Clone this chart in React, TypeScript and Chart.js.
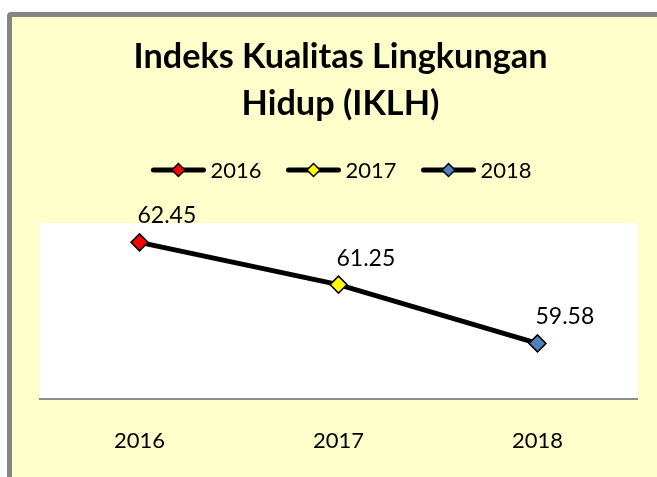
import React, { useEffect, useRef } from "react";
import { Chart, registerables } from "chart.js";

Chart.register(...registerables);

const titleLines = ["Indeks Kualitas Lingkungan", "Hidup (IKLH)"];
const years = ["2016", "2017", "2018"];
const iklhValues = [62.45, 61.25, 59.58];
const pointColors = ["#FF0000", "#FFFF00", "#4F81BD"];
const yMin = 58;
const yMax = 63;

const FONT = "Lato, 'Open Sans', sans-serif";

const plotBackground = {
  id: "plotBackground",
  beforeDraw(chart: any) {
    const { ctx, chartArea } = chart;
    ctx.save();
    ctx.fillStyle = "#FFFFFF";
    ctx.fillRect(chartArea.left, chartArea.top, chartArea.right - chartArea.left, chartArea.bottom - chartArea.top);
    ctx.restore();
  },
};

function diamond(ctx: CanvasRenderingContext2D, x: number, y: number, r: number, fill: string) {
  ctx.beginPath();
  ctx.moveTo(x - r, y);
  ctx.lineTo(x, y - r);
  ctx.lineTo(x + r, y);
  ctx.lineTo(x, y + r);
  ctx.closePath();
  ctx.fillStyle = fill;
  ctx.fill();
  ctx.lineWidth = 1.5;
  ctx.strokeStyle = "#000000";
  ctx.stroke();
}

const titleAndLegend = {
  id: "titleAndLegend",
  afterDraw(chart: any) {
    const { ctx } = chart;
    ctx.save();
    // title
    ctx.font = `bold 100px ${FONT}`;
    const w0 = ctx.measureText(titleLines[0]).width;
    const size = (100 * 414) / w0;
    ctx.font = `bold ${size}px ${FONT}`;
    ctx.fillStyle = "#000000";
    ctx.textAlign = "center";
    ctx.textBaseline = "alphabetic";
    ctx.fillText(titleLines[0], 328.5, 51);
    ctx.fillText(titleLines[1], 328.5, 98);

    // legend
    ctx.font = `22px ${FONT}`;
    const labels: string[] = chart.data.labels;
    const lineLen = 54;
    const textGap = 5;
    const itemGap = 25;
    const widths = labels.map((l) => lineLen + textGap + ctx.measureText(l).width);
    const total = widths.reduce((a, b) => a + b, 0) + itemGap * (labels.length - 1);
    let x = 329.5 - total / 2;
    const y = 153;
    const colors = chart.data.datasets[0].pointBackgroundColor;
    labels.forEach((l, i) => {
      ctx.beginPath();
      ctx.moveTo(x + 2, y);
      ctx.lineTo(x + lineLen - 2, y);
      ctx.lineWidth = 5;
      ctx.lineCap = "round";
      ctx.strokeStyle = "#000000";
      ctx.stroke();
      ctx.lineCap = "butt";
      diamond(ctx, x + lineLen / 2, y, 6.5, colors[i]);
      ctx.fillStyle = "#000000";
      ctx.textAlign = "left";
      ctx.textBaseline = "alphabetic";
      ctx.fillText(l, x + lineLen + textGap, y + 8);
      x += widths[i] + itemGap;
    });
    ctx.restore();
  },
};

const dataLabels = {
  id: "dataLabels",
  afterDatasetsDraw(chart: any) {
    const { ctx } = chart;
    const meta = chart.getDatasetMeta(0);
    const data = chart.data.datasets[0].data;
    ctx.save();
    ctx.font = `23px ${FONT}`;
    ctx.fillStyle = "#000000";
    ctx.textAlign = "left";
    ctx.textBaseline = "alphabetic";
    meta.data.forEach((pt: any, i: number) => {
      ctx.fillText(data[i].toFixed(2), pt.x - 2, pt.y - 19);
    });
    ctx.restore();
  },
};

export default function App() {
  const canvasRef = useRef<HTMLCanvasElement | null>(null);

  useEffect(() => {
    if (!canvasRef.current) return;
    const chart = new Chart(canvasRef.current, {
      type: "line",
      data: {
        labels: years,
        datasets: [
          {
            label: "IKLH",
            data: iklhValues,
            borderColor: "#000000",
            borderWidth: 5,
            tension: 0,
            pointStyle: "rectRot",
            pointRadius: 8.5,
            pointHoverRadius: 8.5,
            pointBorderWidth: 1.5,
            pointBorderColor: "#000000",
            pointBackgroundColor: pointColors,
          },
        ],
      },
      options: {
        responsive: false,
        maintainAspectRatio: false,
        animation: false,
        events: [],
        layout: { padding: { top: 206, left: 28, right: 20, bottom: 0 } },
        plugins: {
          legend: { display: false },
          title: { display: false },
          tooltip: { enabled: false },
        },
        scales: {
          x: {
            offset: true,
            grid: { display: false, drawTicks: false },
            border: { display: true, color: "#8C8C8C", width: 2 },
            ticks: { color: "#000000", font: { family: FONT, size: 22 }, padding: 29 },
            afterFit: (scale: any) => {
              scale.height = 78;
            },
          },
          y: {
            display: false,
            min: yMin,
            max: yMax,
          },
        },
      },
      plugins: [plotBackground, dataLabels, titleAndLegend],
    });
    return () => chart.destroy();
  }, []);

  return (
    <div style={{ position: "fixed", left: 0, top: 0, width: 657, height: 477, overflow: "hidden", background: "#FFFFFF" }}>
      <div
        style={{
          position: "absolute",
          left: 7,
          top: 12,
          width: 700,
          height: 520,
          border: "5px solid #858585",
          borderRadius: 4,
          background: "#FFFFCC",
        }}
      >
        <canvas ref={canvasRef} width={645} height={460} style={{ position: "absolute", left: 0, top: 0, width: 645, height: 460 }} />
      </div>
    </div>
  );
}
